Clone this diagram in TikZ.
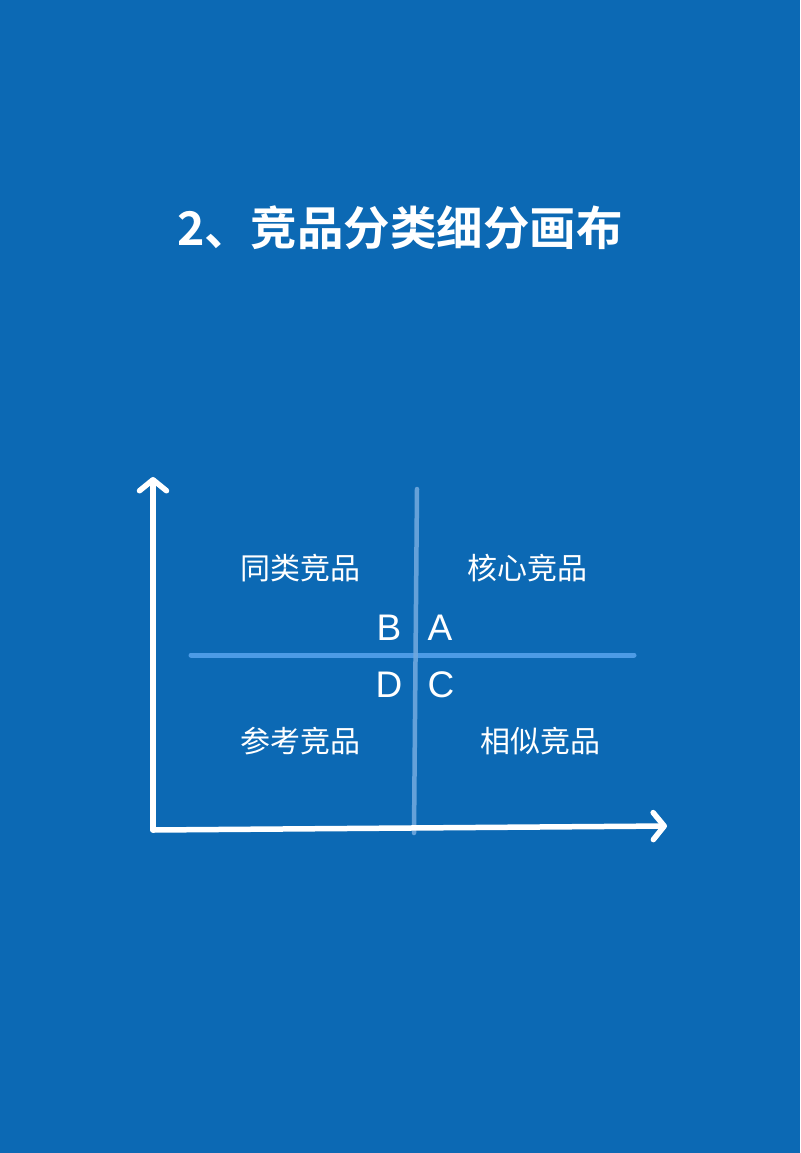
\documentclass[tikz,border=0pt]{standalone}
\usepackage{fontspec}
\setmainfont{Liberation Sans}
\newfontfamily\cjk{Noto Sans CJK SC}
\newfontfamily\cjkb{Noto Sans CJK SC Bold}
\usetikzlibrary{arrows.meta}
\definecolor{bg}{HTML}{0C69B4}
\definecolor{hline}{HTML}{4C9BE6}
\definecolor{vline}{HTML}{6FA8DE}
\begin{document}
\begin{tikzpicture}[x=1pt,y=-1pt,
  axis/.style={draw=white,line width=5.5pt,line cap=round,-{Straight Barb[length=11pt,width=27pt,line width=5.5pt,round]}},
  quad/.style={text=white,font=\cjk\fontsize{30}{32}\selectfont,inner sep=0pt},
  letter/.style={text=white,font=\fontsize{37}{40}\selectfont,inner sep=0pt}]
\fill[bg] (0,0) rectangle (800,1153);
\useasboundingbox (0,0) rectangle (800,1153);
\node[text=white,font=\cjkb\fontsize{46.5}{50}\selectfont,inner sep=0pt] (title) at (400,228) {2、竞品分类细分画布};
\coordinate (o) at (153,830);
\coordinate (ytop) at (153,477);
\coordinate (xend) at (667,826);
\coordinate (hl) at (191,655);
\coordinate (hr) at (634,655);
\coordinate (vt) at (417,489);
\coordinate (vb) at (414,833);
\draw[hline,line width=5pt,line cap=round] (hl) -- (hr);
\draw[vline,opacity=0.9,line width=4.5pt,line cap=round] (vt) -- (vb);
\draw[axis] (o) -- (ytop);
\draw[axis] (o) -- (xend);
\node[quad] (q1) at (300,568) {同类竞品};
\node[quad] (q2) at (527,568) {核心竞品};
\node[quad] (q3) at (300,741) {参考竞品};
\node[quad] (q4) at (540,741) {相似竞品};
\node[letter,anchor=base] (B) at (389,640) {B};
\node[letter,anchor=base] (A) at (440,640) {A};
\node[letter,anchor=base] (D) at (389,697) {D};
\node[letter,anchor=base] (C) at (441,697) {C};
\end{tikzpicture}
\end{document}
